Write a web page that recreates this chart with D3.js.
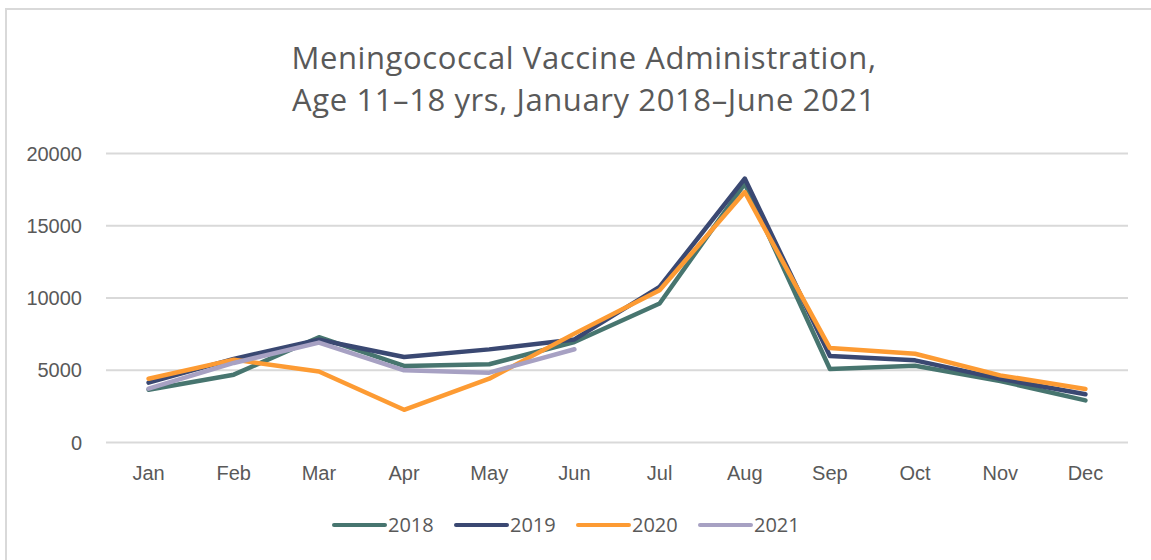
<!DOCTYPE html>
<html>
<head>
<meta charset="utf-8">
<title>Meningococcal Vaccine Administration</title>
<script src="https://cdnjs.cloudflare.com/ajax/libs/d3/7.8.5/d3.min.js"></script>
<style>
  * { margin: 0; padding: 0; }
  body { background: #fff; width: 1151px; height: 560px; overflow: hidden; }
  svg { display: block; font-family: "Open Sans", sans-serif; }
</style>
</head>
<body>
<div id="chart"></div>
<script>
// Data
const months = ['Jan', 'Feb', 'Mar', 'Apr', 'May', 'Jun', 'Jul', 'Aug', 'Sep', 'Oct', 'Nov', 'Dec'];
const years = ['2018', '2019', '2020', '2021'];
const v2018 = [3620, 4660, 7250, 5260, 5380, 6920, 9580, 17880, 5050, 5280, 4220, 2880];
const v2019 = [4110, 5750, 7080, 5880, 6410, 7100, 10730, 18230, 5950, 5650, 4380, 3300];
const v2020 = [4380, 5700, 4880, 2230, 4380, 7500, 10500, 17300, 6500, 6110, 4610, 3670];
const v2021 = [3690, 5470, 6880, 4960, 4800, 6420];
const yTicks = [0, 5000, 10000, 15000, 20000];
const colors = ['#47756f', '#3a4872', '#fd9b33', '#a7a1c3'];

const series = [v2018, v2019, v2020, v2021];

const W = 1151, H = 560;
const margin = { left: 106, right: 23, top: 153, bottom: 118 };

const svg = d3.select('#chart').append('svg')
    .attr('width', W)
    .attr('height', H);

// Chart frame (only top & left edges are in view)
svg.append('path')
    .attr('d', `M6,${H} V9 H${W}`)
    .attr('fill', 'none')
    .attr('stroke', '#d9d9d9')
    .attr('stroke-width', 2);

// Title
const title = svg.append('text')
    .attr('text-anchor', 'middle')
    .attr('fill', '#595959')
    .style('font-size', '31px')
    .style('letter-spacing', '0.6px');
title.append('tspan').attr('x', 584).attr('y', 69).text('Meningococcal Vaccine Administration,');
title.append('tspan').attr('x', 584).attr('y', 111).text('Age 11\u201318 yrs, January 2018\u2013June 2021');

const x = d3.scaleBand()
    .domain(months)
    .range([margin.left, W - margin.right]);

const y = d3.scaleLinear()
    .domain([0, 20000])
    .range([H - margin.bottom, margin.top]);

// Gridlines + y labels
const yAxis = svg.append('g')
    .attr('transform', `translate(${margin.left},0)`)
    .call(d3.axisLeft(y).tickValues(yTicks).tickSize(-(W - margin.left - margin.right)).tickPadding(24).tickFormat(d3.format('d')));
yAxis.select('.domain').remove();
yAxis.selectAll('.tick line').attr('stroke', '#d9d9d9').attr('stroke-width', 2);
yAxis.selectAll('.tick text').attr('fill', '#595959').style('font-size', '20px').attr('dy', '0.35em');

// x labels
const xAxis = svg.append('g')
    .attr('transform', `translate(0,${H - margin.bottom})`)
    .call(d3.axisBottom(x).tickSize(0).tickPadding(24));
xAxis.select('.domain').remove();
xAxis.selectAll('.tick text').attr('fill', '#595959').style('font-size', '20px');

// Lines
const line = d3.line()
    .x((d, i) => x(months[i]) + x.bandwidth() / 2)
    .y(d => y(d));

svg.append('g').selectAll('path')
    .data(series)
    .join('path')
    .attr('d', d => line(d))
    .attr('fill', 'none')
    .attr('stroke', (d, i) => colors[i])
    .attr('stroke-width', 4.5)
    .attr('stroke-linejoin', 'round')
    .attr('stroke-linecap', 'round');

// Legend
const legendX = [333, 455, 577, 699];
const legend = svg.append('g').selectAll('g')
    .data(years)
    .join('g')
    .attr('transform', (d, i) => `translate(${legendX[i]},525)`);
legend.append('line')
    .attr('x1', 1).attr('x2', 52)
    .attr('stroke', (d, i) => colors[i])
    .attr('stroke-width', 4)
    .attr('stroke-linecap', 'round');
legend.append('text')
    .attr('x', 55)
    .attr('dy', '0.35em')
    .attr('fill', '#595959')
    .style('font-size', '20px')
    .text(d => d);
</script>
</body>
</html>
